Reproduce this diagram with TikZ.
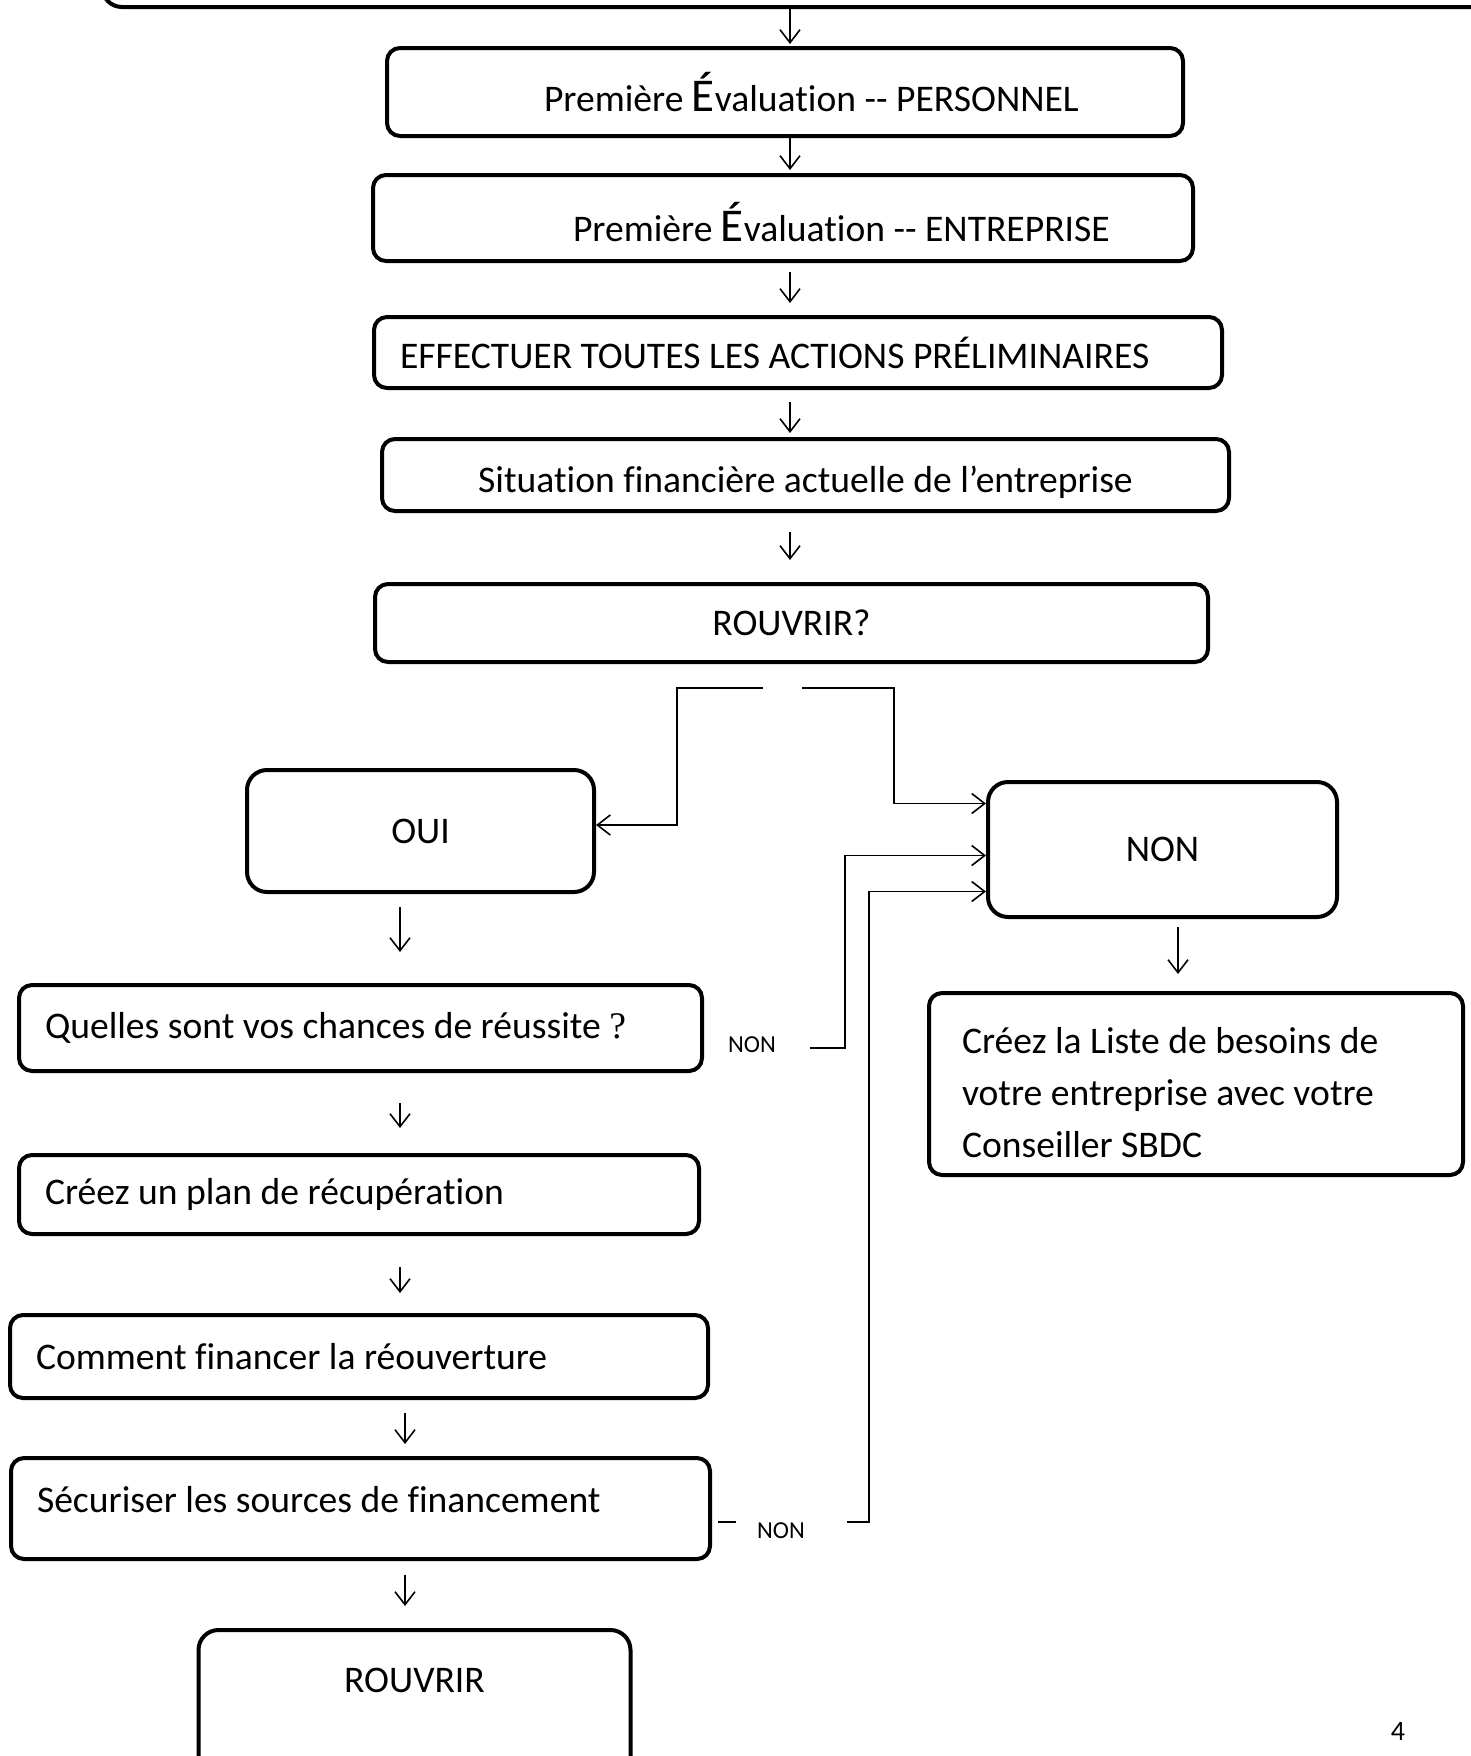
\documentclass[tikz,border=0pt]{standalone}
\usepackage{fontspec}
\setmainfont{Carlito}[Ligatures=NoCommon]
\newfontfamily\qmarkfont{Liberation Serif}
\usetikzlibrary{positioning,arrows.meta}
\newcommand\bigE{{\fontsize{23.5}{23.5}\selectfont É}}

\begin{document}
\begin{tikzpicture}[
  x=0.5pt,y=-0.5pt,
  font=\fontsize{18.8}{26}\selectfont,
  box/.style={draw,line width=2pt,rounded corners=6.5pt,inner sep=0pt},
  bigbox/.style={box,rounded corners=10pt},
  lbox/.style={box,align=flush left,inner xsep=13pt,text width=#1},
  tag/.style={font=\fontsize{12.2}{14}\selectfont},
  link/.style={line width=0.8pt},
  gap/.style 2 args={shorten <=#1,shorten >=#2},
  >={Straight Barb[length=6.5pt,width=10pt]}]
\useasboundingbox (0,0) rectangle (1471,1756);
\clip (0,0) rectangle (1471,1756);
\coordinate (spine) at (790,0);
\coordinate (lcol) at (400,0);
\coordinate (lcolb) at (405,0);
\coordinate (rcol) at (1178,0);
\coordinate (forkL) at (763,688);
\coordinate (forkR) at (802,688);
\node[bigbox,minimum width=710pt,minimum height=53.5pt] (intro) at (812,-46.5) {};
\node[lbox=372pt,minimum height=44pt] (pers) at (785,92) {\hspace*{65.5pt}Première \bigE{}valuation \mbox{-}\mbox{-} PERSONNEL};
\node[lbox=384pt,minimum height=43pt,text height=24pt] (entr) at (783,218) {\hspace*{87pt}Première \bigE{}valuation \mbox{-}\mbox{-} ENTREPRISE};
\node[lbox=398pt,minimum height=35.5pt] (prelim) at (798,352.5) {EFFECTUER TOUTES LES ACTIONS PRÉLIMINAIRES};
\node[box,minimum width=423.5pt,minimum height=36pt,text height=21pt] (situ) at (805.5,475) {Situation financière actuelle de l’entreprise};
\node[box,minimum width=416.5pt,minimum height=39pt] (rouv) at (791.5,623) {ROUVRIR?};
\node[bigbox,minimum width=173.5pt,minimum height=61pt] (oui) at (420.5,831) {OUI};
\node[bigbox,minimum width=174.5pt,minimum height=67.5pt] (non) at (1162.5,849.5) {NON};
\node[lbox=315.5pt,minimum height=43pt] (chances) at (360.5,1028) {Quelles sont vos chances de réussite {\qmarkfont ?}};
\node[lbox=314pt,minimum height=39.5pt] (plan) at (359,1194.5) {Créez un plan de récupération};
\node[lbox=323pt,minimum height=41.5pt] (finance) at (359,1356.5) {Comment financer la réouverture};
\node[lbox=323.5pt,minimum height=50.5pt,text depth=9.5pt] (sources) at (360.5,1508.5) {Sécuriser les sources de financement};
\node[bigbox,lbox=234pt,inner xsep=16.5pt,minimum height=91pt,text height=22pt] (besoins) at (1196,1084) {Créez la Liste de besoins de\\votre entreprise avec votre\\Conseiller SBDC};
\node[bigbox,anchor=north,minimum width=216pt,text height=31pt,text depth=60pt] (reouv) at (414.5,1628) {ROUVRIR};
\node[tag] (nonA) at (752,1045) {NON};
\node[tag] (nonB) at (781,1531) {NON};
\node[font=\fontsize{14}{14}\selectfont] (pnum) at (1398,1731) {4};
\draw[->,link,gap={0pt}{1pt}] (intro.south -| spine) -- (pers.north -| spine);
\draw[->,link,gap={0pt}{1.5pt}] (pers.south -| spine) -- (entr.north -| spine);
\draw[->,link,gap={4.5pt}{6pt}] (entr.south -| spine) -- (prelim.north -| spine);
\draw[->,link,gap={6pt}{2pt}] (prelim.south -| spine) -- (situ.north -| spine);
\draw[->,link,gap={9.5pt}{11pt}] (situ.south -| spine) -- (rouv.north -| spine);
\draw[->,link] (forkL) -- ++(-86,0) |- ([yshift=3pt]oui.east);
\draw[->,link] (forkR) -- ++(92,0) |- ([yshift=23pt]non.west);
\draw[->,link,gap={6.5pt}{15.5pt}] (oui.south -| lcol) -- (chances.north -| lcol);
\draw[->,link,gap={15pt}{12.5pt}] (chances.south -| lcol) -- (plan.north -| lcol);
\draw[->,link,gap={15.5pt}{10pt}] (plan.south -| lcol) -- (finance.north -| lcol);
\draw[->,link,gap={6.5pt}{6pt}] (finance.south -| lcolb) -- (sources.north -| lcolb);
\draw[->,link,gap={7pt}{11pt}] (sources.south -| lcolb) -- (reouv.north -| lcolb);
\draw[->,link,gap={4pt}{8.5pt}] (non.south -| rcol) -- (besoins.north -| rcol);
\draw[->,link] ([shift={(13.5pt,-1.5pt)}]nonA.east) -- ++(35,0) |- ([yshift=-3pt]non.west);
\draw[link] ([shift={(3pt,-6.75pt)}]sources.east) -- ++(18,0);
\draw[->,link] ([shift={(17.5pt,4.5pt)}]nonB.east) -- ++(22,0) |- ([yshift=-21pt]non.west);
\end{tikzpicture}
\end{document}
